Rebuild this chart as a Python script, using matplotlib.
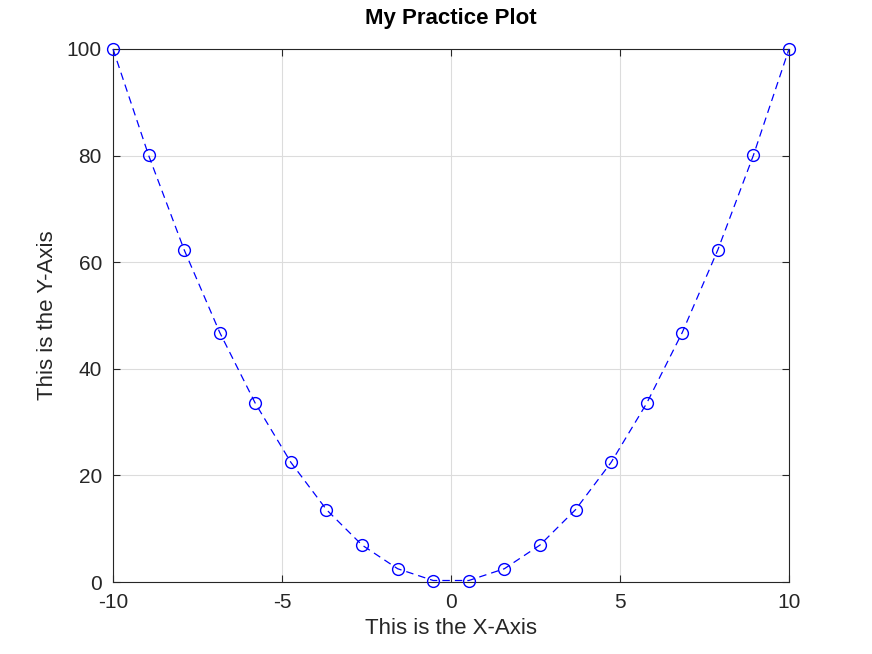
import matplotlib
matplotlib.use("Agg")
import matplotlib.pyplot as plt

x = [-10, -8.947, -7.895, -6.842, -5.789, -4.737, -3.684, -2.632, -1.579, -0.526,
     0.526, 1.579, 2.632, 3.684, 4.737, 5.789, 6.842, 7.895, 8.947, 10]
y = [100, 80.06, 62.33, 46.81, 33.52, 22.44, 13.57, 6.93, 2.49, 0.28,
     0.28, 2.49, 6.93, 13.57, 22.44, 33.52, 46.81, 62.33, 80.06, 100]

plt.rcParams['font.family'] = ['Liberation Sans', 'DejaVu Sans']
plt.rcParams['axes.unicode_minus'] = False
fig = plt.figure(figsize=(8.72, 6.54), dpi=100)
ax = fig.add_axes([113/872, 72/654, (789-113)/872, (582-49)/654])
ax.plot(x, y, 'b--', marker='o', markerfacecolor='none', markersize=8.5, linewidth=0.9,
        dashes=(6, 4), clip_on=False, zorder=3)
ax.set_xlim(-10, 10)
ax.set_ylim(0, 100)
ax.set_xticks([-10, -5, 0, 5, 10])
ax.set_yticks([0, 20, 40, 60, 80, 100])
ax.grid(True, color='#dcdcdc', linewidth=0.8)
ax.tick_params(direction='in', top=True, right=True, labelsize=15, colors='#262626', length=5, pad=8)
for s in ax.spines.values():
    s.set_color('#262626'); s.set_linewidth(0.8)
ax.set_xlabel('This is the X-Axis', fontsize=16, color='#262626', labelpad=4)
ax.set_ylabel('This is the Y-Axis', fontsize=16, color='#262626', labelpad=6)
ax.set_title('My Practice Plot', fontsize=16, fontweight='bold', pad=18)
fig.savefig('out.png', dpi=100)
